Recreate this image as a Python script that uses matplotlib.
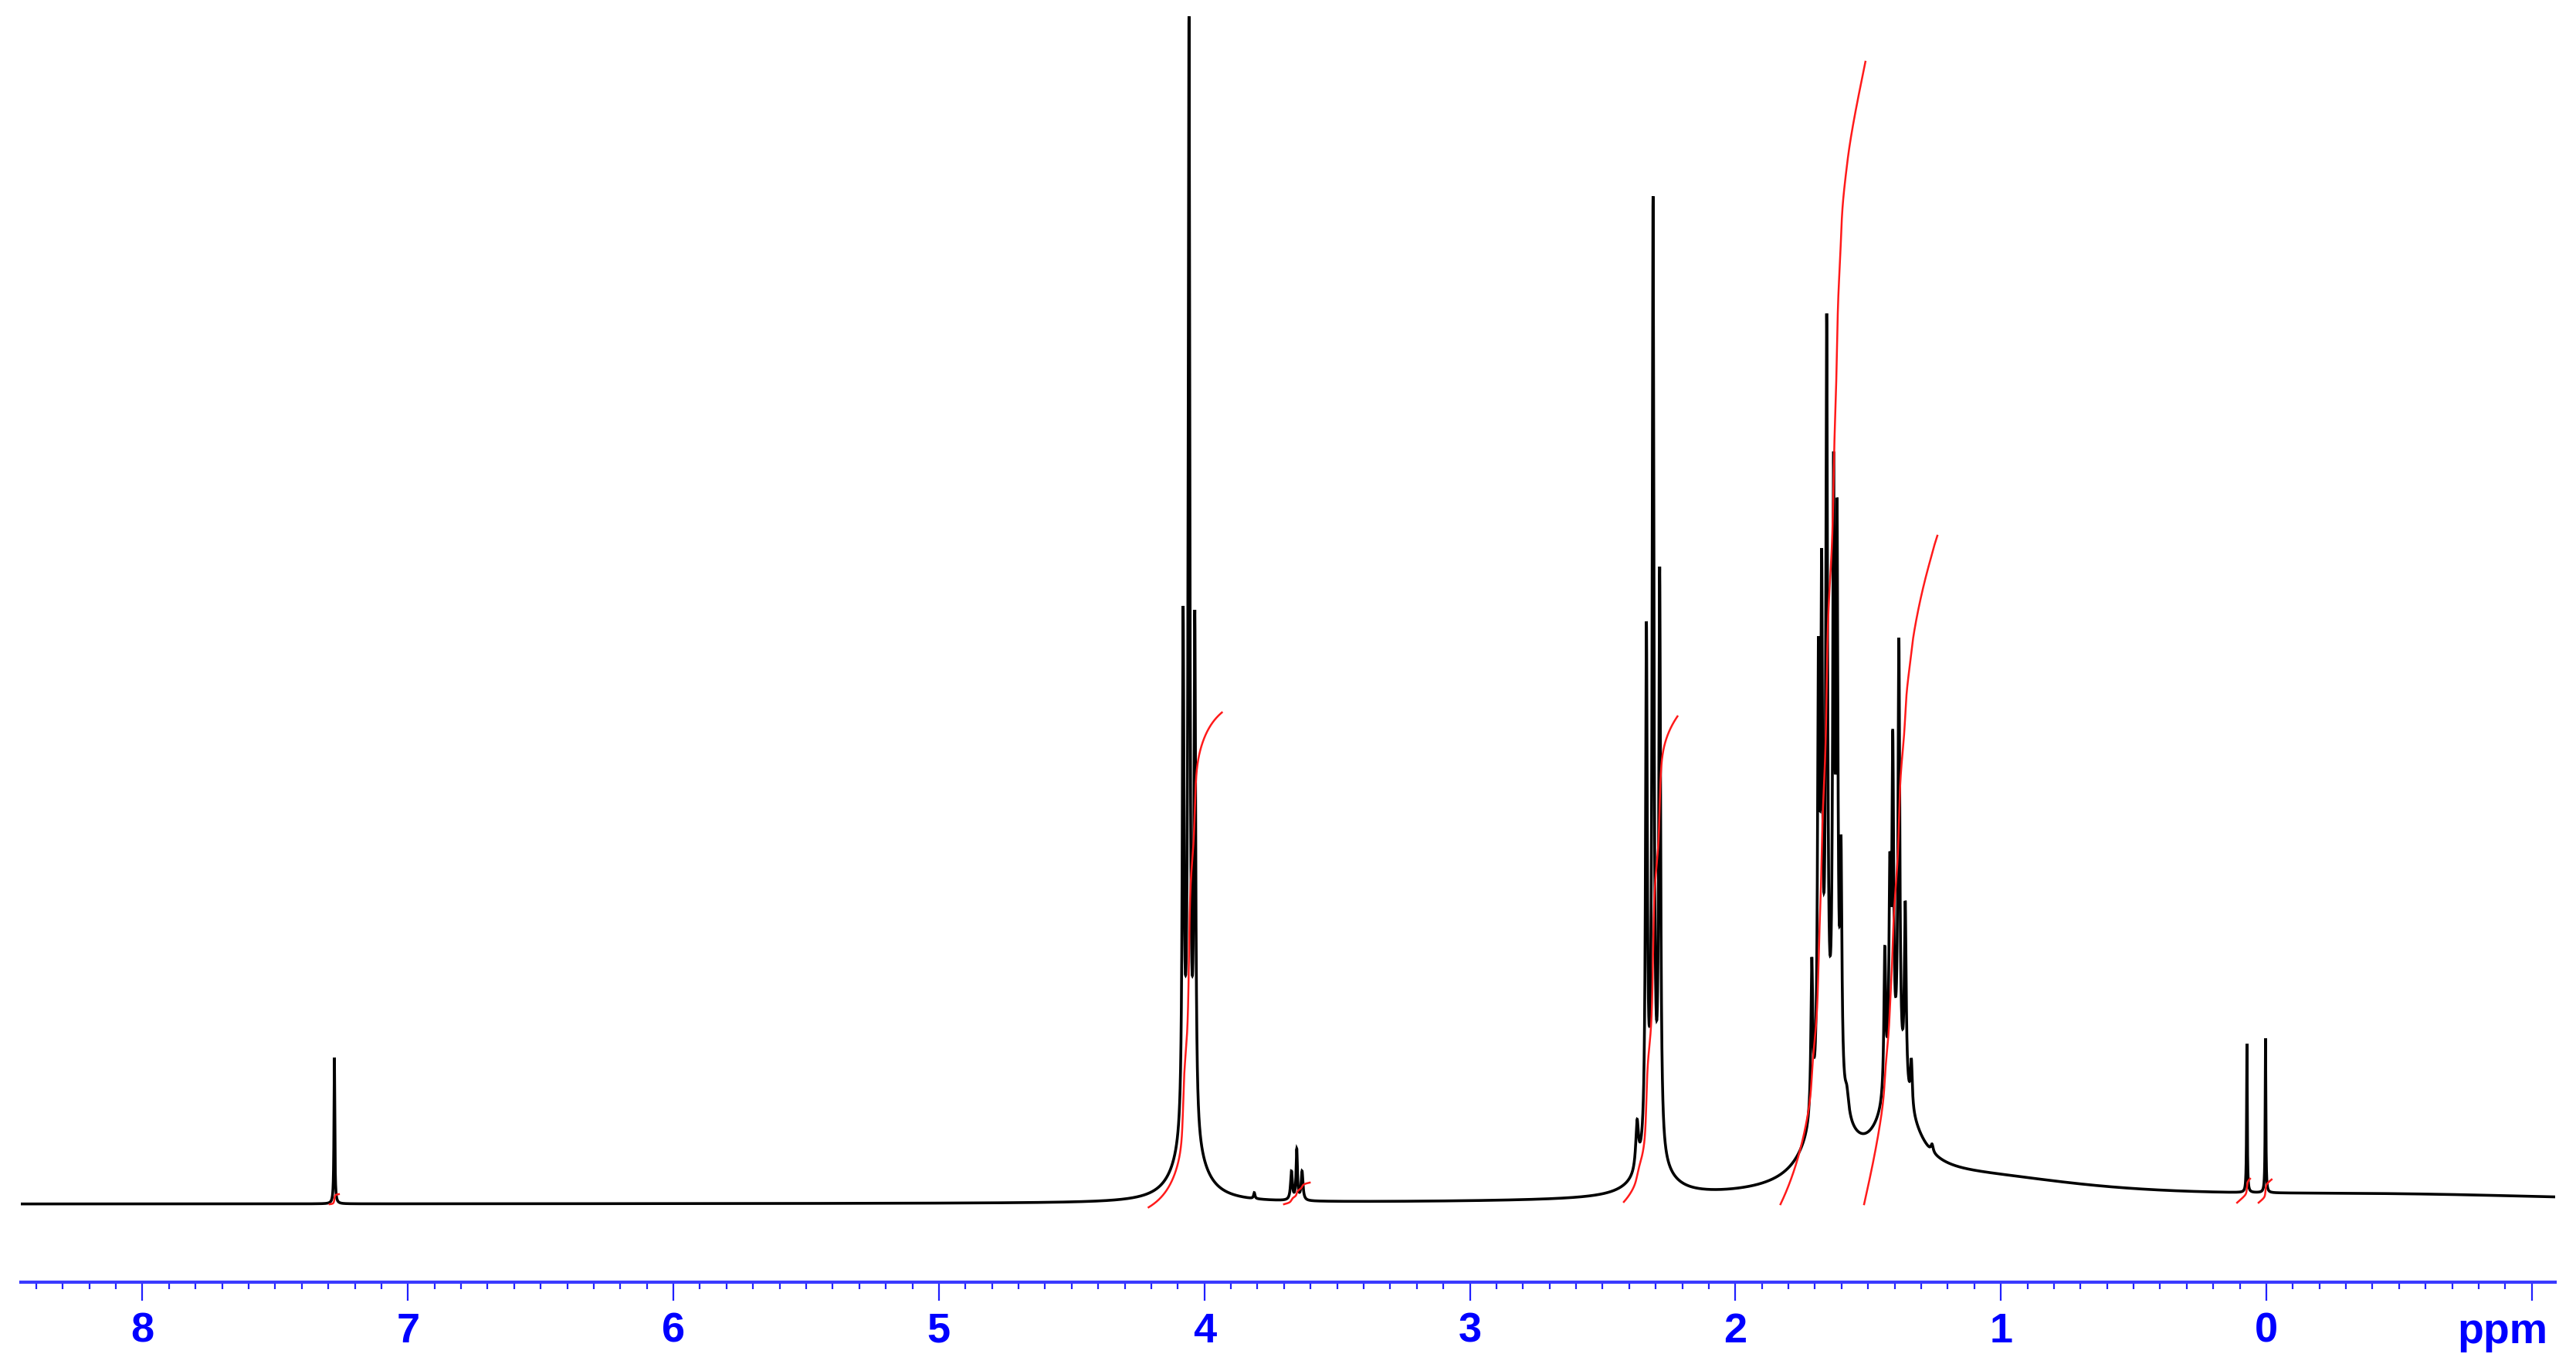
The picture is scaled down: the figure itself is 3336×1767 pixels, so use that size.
import numpy as np
import matplotlib
matplotlib.use("Agg")
import matplotlib.pyplot as plt

# ---------------- data ----------------
# narrow lines: shift (ppm), apparent apex height (px above baseline), half width (ppm)
line_ppm = [7.277, 4.080, 4.058, 4.036, 3.812, 3.672, 3.652, 3.632,
            2.370, 2.335, 2.310, 2.285,
            1.712, 1.687, 1.675, 1.656, 1.630, 1.617, 1.602, 1.580,
            1.437, 1.418, 1.407, 1.384, 1.360, 1.337, 1.259,
            0.073, 0.003]
line_obs = [190, 775, 1539, 770, 15, 43, 72, 43,
            110, 755, 1306, 826,
            320, 735, 850, 1154, 975, 915, 478, 154,
            334, 456, 614, 734, 393, 189, 78,
            208, 215]
line_hw = [0.0018, 0.0038, 0.0038, 0.0038, 0.003, 0.004, 0.003, 0.004,
           0.006, 0.004, 0.004, 0.004,
           0.004, 0.004, 0.004, 0.004, 0.004, 0.004, 0.004, 0.008,
           0.004, 0.004, 0.004, 0.004, 0.004, 0.004, 0.005,
           0.0015, 0.0015]

# broad underlying components
broad_ppm = [4.058, 2.310, 1.650, 1.390, 1.100, -0.500]
broad_h = [80, 45, 115, 115, 30, 10]
broad_hw = [0.06, 0.07, 0.08, 0.08, 0.55, 1.0]

# integral regions (ppm start/end, level start/end in px above baseline)
int_start = [7.295, 4.21, 3.70, 2.42, 1.83, 1.515, 0.11, 0.029]
int_end = [7.26, 3.934, 3.603, 2.218, 1.51, 1.239, 0.061, -0.02]
int_lo = [0, -4, 0, 3, 0, 0, 2, 2]
int_hi = [13, 637, 28, 632, 1480, 866, 33, 32]

major_ticks = [8, 7, 6, 5, 4, 3, 2, 1, 0, -1]
major_labels = ["8", "7", "6", "5", "4", "3", "2", "1", "0", ""]

# ---------------- build spectrum ----------------
def lor(d, hw):
    return hw ** 2 / (d ** 2 + hw ** 2)

lp = np.array(line_ppm); lo = np.array(line_obs, float); lw_ = np.array(line_hw)
bp = np.array(broad_ppm); bh = np.array(broad_h, float); bw = np.array(broad_hw)

def broad(x):
    x = np.asarray(x)[..., None]
    return (bh * lor(x - bp, bw)).sum(-1)

A = lor(lp[:, None] - lp[None, :], lw_[None, :])
h = np.linalg.solve(A, lo - broad(lp))
h = np.clip(h, 0, None)

x = np.linspace(8.458, -1.088, 80000)
y = broad(x) + (h * lor(x[:, None] - lp, lw_)).sum(-1)

# ---------------- figure ----------------
W, H = 3336, 1767
fig = plt.figure(figsize=(W / 100, H / 100), dpi=100)
axis_y = 1661
ax = fig.add_axes([27 / W, (H - axis_y) / H, (3309 - 27) / W, axis_y / H])
ax.set_xlim(8.458, -1.088)
ax.set_ylim(-101, 1560)

ax.plot(x, y, color="black", lw=2.6, solid_joinstyle="miter")

for s, e, a, b in zip(int_start, int_end, int_lo, int_hi):
    m = (x <= s) & (x >= e)
    xs = x[m]
    c = np.cumsum(y[m])
    c = (c - c[0]) / (c[-1] - c[0])
    ax.plot(xs, a + c * (b - a), color="#ff1a1a", lw=1.8)

for sp in ["top", "left", "right"]:
    ax.spines[sp].set_visible(False)
ax.spines["bottom"].set_color("#3a3aff")
ax.spines["bottom"].set_linewidth(3)
ax.set_yticks([])
ax.set_xticks(major_ticks)
ax.set_xticklabels(major_labels)
minor = [v / 10 for v in range(-10, 85) if v % 10 != 0]
ax.set_xticks(minor, minor=True)
ax.tick_params(axis="x", which="major", length=17, width=1.6, color="#2020ff",
               pad=11, labelsize=39, labelcolor="#0000ff")
ax.tick_params(axis="x", which="minor", length=6.5, width=1.6, color="#2020ff")
for t in ax.get_xticklabels():
    t.set_fontfamily("Liberation Sans")
    t.set_fontweight("bold")

fig.text(3241 / W, (H - 1740) / H, "ppm", ha="center", va="baseline",
         fontsize=40, fontweight="bold", color="#0000ff", family="Liberation Sans")

fig.savefig("out.png", dpi=100)
